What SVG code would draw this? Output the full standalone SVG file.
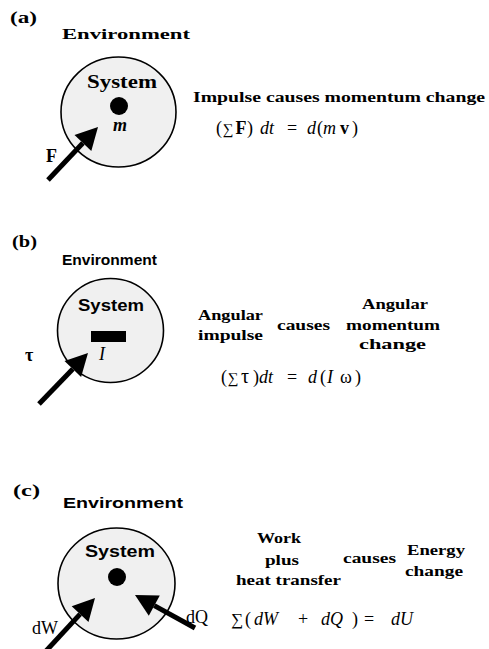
<svg xmlns="http://www.w3.org/2000/svg" width="489" height="649" viewBox="0 0 489 649">
<style>
.lbl{font-family:"Liberation Serif",serif;font-weight:bold;font-size:17px;fill:#000}
.sb{font-family:"Liberation Serif",serif;font-weight:bold;fill:#000}
.ss{font-family:"Liberation Sans",Arial,sans-serif;font-weight:bold;fill:#000}
.eq{font-family:"Liberation Serif",serif;font-size:18px;fill:#000}
.it{font-style:italic}
.sig{font-size:15px}
.sys{fill:#f0f0f0;stroke:#000;stroke-width:1.6}
.shaft{stroke:#000;stroke-width:5;fill:none}
.head{fill:#000}
</style>
<rect width="489" height="649" fill="#fff"/>

<g id="panel-a">
<text class="lbl" x="10" y="23" textLength="27" lengthAdjust="spacingAndGlyphs">(a)</text>
<text class="sb" x="62" y="39" font-size="15" textLength="128" lengthAdjust="spacingAndGlyphs">Environment</text>
<g id="system-a">
<ellipse class="sys" cx="118.5" cy="112" rx="57.5" ry="55"/>
<text class="sb" x="87" y="88" font-size="18" textLength="70" lengthAdjust="spacingAndGlyphs">System</text>
<circle cx="119" cy="106" r="9" fill="#000"/>
<text class="eq it" x="113" y="131" font-size="17" font-weight="bold">m</text>
</g>
<text class="sb" x="193" y="102" font-size="14" textLength="292" lengthAdjust="spacingAndGlyphs">Impulse causes momentum change</text>
<text class="eq" y="134"><tspan x="216">(</tspan><tspan x="222.5" class="sig">∑</tspan><tspan x="235.5" font-weight="bold">F</tspan><tspan x="247">)</tspan><tspan x="260" class="it">dt</tspan><tspan x="287">=</tspan><tspan x="307" class="it">d</tspan><tspan x="317">(</tspan><tspan x="323" class="it">m</tspan><tspan x="340" font-weight="bold">v</tspan><tspan x="352">)</tspan></text>
<text class="eq" x="46" y="162" font-size="19" font-weight="bold">F</text>
</g>

<g id="panel-b">
<text class="lbl" x="12" y="247" textLength="25" lengthAdjust="spacingAndGlyphs">(b)</text>
<text class="ss" x="62" y="265" font-size="15" textLength="95" lengthAdjust="spacingAndGlyphs">Environment</text>
<g id="system-b">
<ellipse class="sys" cx="110.5" cy="330.5" rx="53" ry="52"/>
<text class="ss" x="78" y="311" font-size="16" textLength="66" lengthAdjust="spacingAndGlyphs">System</text>
<rect x="91" y="331" width="35" height="11" fill="#000"/>
<text class="eq it" x="99" y="360" font-size="19">I</text>
</g>
<text class="sb" x="198" y="320" font-size="14" textLength="65" lengthAdjust="spacingAndGlyphs">Angular</text>
<text class="sb" x="198" y="340" font-size="14" textLength="65" lengthAdjust="spacingAndGlyphs">impulse</text>
<text class="sb" x="277" y="330" font-size="14" textLength="53" lengthAdjust="spacingAndGlyphs">causes</text>
<text class="sb" x="362" y="309" font-size="14" textLength="66" lengthAdjust="spacingAndGlyphs">Angular</text>
<text class="sb" x="346" y="330" font-size="14" textLength="94" lengthAdjust="spacingAndGlyphs">momentum</text>
<text class="sb" x="359" y="349" font-size="14" textLength="67" lengthAdjust="spacingAndGlyphs">change</text>
<text class="eq" y="383"><tspan x="221">(</tspan><tspan x="227.5" class="sig">∑</tspan><tspan x="241" font-size="20">τ</tspan><tspan x="253">)</tspan><tspan x="259" class="it">dt</tspan><tspan x="287">=</tspan><tspan x="308" class="it">d</tspan><tspan x="320">(</tspan><tspan x="327" class="it">I</tspan><tspan x="340">ω</tspan><tspan x="355">)</tspan></text>
<text class="eq" x="25" y="361" font-size="23" font-weight="bold">τ</text>
</g>

<g id="panel-c">
<text class="lbl" x="13" y="496" textLength="27" lengthAdjust="spacingAndGlyphs">(c)</text>
<text class="ss" x="63" y="508" font-size="15" textLength="120" lengthAdjust="spacingAndGlyphs">Environment</text>
<g id="system-c">
<ellipse class="sys" cx="116.5" cy="583.5" rx="58.5" ry="55.5"/>
<text class="ss" x="85" y="557" font-size="16" textLength="70" lengthAdjust="spacingAndGlyphs">System</text>
<circle cx="117" cy="577" r="9" fill="#000"/>
</g>
<text class="sb" x="257" y="543" font-size="14" textLength="44" lengthAdjust="spacingAndGlyphs">Work</text>
<text class="sb" x="265" y="565" font-size="14" textLength="34" lengthAdjust="spacingAndGlyphs">plus</text>
<text class="sb" x="236" y="585" font-size="14" textLength="105" lengthAdjust="spacingAndGlyphs">heat transfer</text>
<text class="sb" x="343" y="563" font-size="14" textLength="53" lengthAdjust="spacingAndGlyphs">causes</text>
<text class="sb" x="407" y="555" font-size="14" textLength="58" lengthAdjust="spacingAndGlyphs">Energy</text>
<text class="sb" x="405" y="576" font-size="14" textLength="58" lengthAdjust="spacingAndGlyphs">change</text>
<text class="eq" y="625" font-size="19"><tspan x="231" font-size="17">∑</tspan><tspan x="245">(</tspan><tspan x="254" class="it">dW</tspan><tspan x="298">+</tspan><tspan x="321" class="it">dQ</tspan><tspan x="352">)</tspan><tspan x="364">=</tspan><tspan x="391" class="it">dU</tspan></text>
<text class="eq" x="32" y="634" font-size="18">dW</text>
<text class="eq" x="186" y="623" font-size="18">dQ</text>
</g>

<g id="connectors">
<line class="shaft" x1="48" y1="180" x2="82.9" y2="143"/>
<polygon class="head" points="98,127 74.5,135.1 91.3,150.9"/>
<line class="shaft" x1="39" y1="404" x2="72.8" y2="368.9"/>
<polygon class="head" points="88,353 64.5,360.9 81.1,376.9"/>
<line class="shaft" x1="46" y1="651" x2="80.1" y2="614.1"/>
<polygon class="head" points="95,598 71.7,606.3 88.5,621.9"/>
<line class="shaft" x1="195" y1="628" x2="154.3" y2="605.6"/>
<polygon class="head" points="135,595 159.8,595.6 148.8,615.7"/>
</g>
</svg>
